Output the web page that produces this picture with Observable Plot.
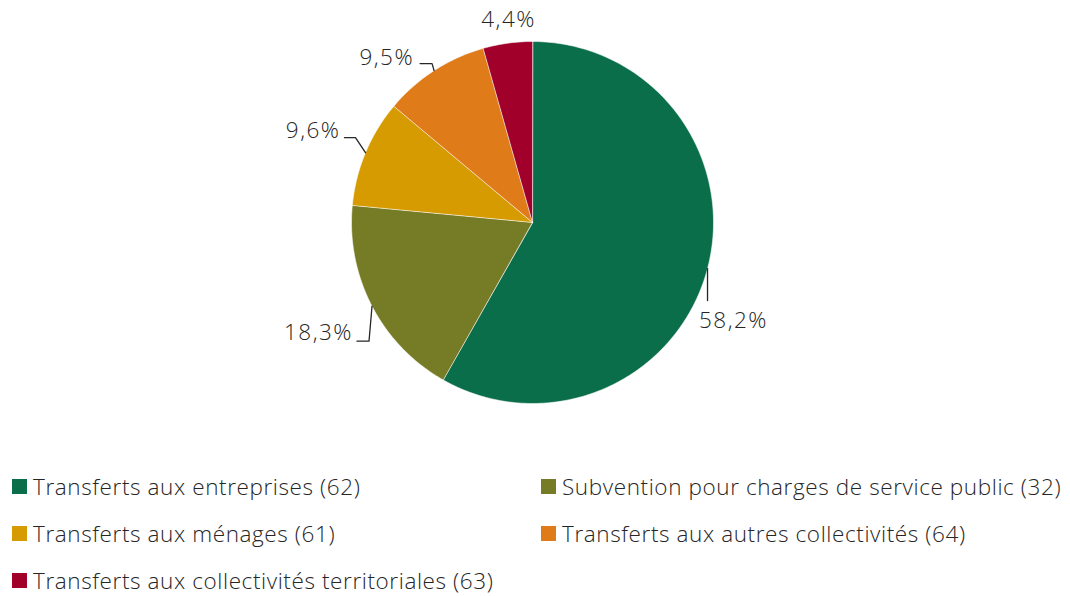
<!DOCTYPE html>
<html><head><meta charset="utf-8">
<script src="https://cdn.jsdelivr.net/npm/d3@7"></script>
<script src="https://cdn.jsdelivr.net/npm/@observablehq/plot@0.6"></script>
<style>
body{margin:0;background:#fff;font-family:"Open Sans",sans-serif;font-weight:300;color:#262626}
#legend{display:grid;grid-template-columns:529px 1fr;padding:33px 0 0 12px;}
.item{height:47px;display:flex;align-items:center;font-size:22.5px;letter-spacing:0.6px;white-space:nowrap}
.sw{width:15px;height:15px;margin-right:6px;flex:none}
#chart svg text{letter-spacing:1.5px}
</style></head><body><div id="chart"></div><div id="legend"></div>
<script>
// ---- data ----
const categories = [
  "Transferts aux entreprises (62)",
  "Subvention pour charges de service public (32)",
  "Transferts aux ménages (61)",
  "Transferts aux autres collectivités (64)",
  "Transferts aux collectivités territoriales (63)"
];
const shares = [58.2, 18.3, 9.6, 9.5, 4.4];
const labels = ["58,2%", "18,3%", "9,6%", "9,5%", "4,4%"];
const colors = ["#0b6e4a", "#767b26", "#d69b00", "#e07b1a", "#a0002a"];

// ---- label layout (pixel offsets from slice edge midpoint) ----
const leaderOffsets = [
  [[0,0],[0,32]],
  [[0,0],[-3,35],[-15,35]],
  [[0,0],[-10,-15],[-21,-15]],
  [[0,0],[-2,-7],[-14,-7]],
  []
];
const textOffsets = [[26,52,"middle"],[-19,27,"end"],[-25,-22,"end"],[-20,-13,"end"],[1,-23,"middle"]];

// ---- geometry ----
const W = 1070, H = 430, cx = 532, cy = 222, R = 181;
const total = d3.sum(shares);
const wedges = [], leaders = [], texts = [];
let cum = 0;
categories.forEach((cat, i) => {
  const a0 = cum / total * 2 * Math.PI;
  cum += shares[i];
  const a1 = cum / total * 2 * Math.PI;
  wedges.push({cat, x: 0, y: 0});
  const n = Math.max(2, Math.ceil((a1 - a0) / (Math.PI / 180)));
  for (let k = 0; k <= n; k++) {
    const a = a0 + (a1 - a0) * k / n;
    wedges.push({cat, x: Math.sin(a), y: Math.cos(a)});
  }
  const am = (a0 + a1) / 2;
  const ex = Math.sin(am), ey = Math.cos(am);
  leaderOffsets[i].forEach(([dx, dy]) => leaders.push({cat, x: ex + dx / R, y: ey - dy / R}));
  const [tx, ty, anchor] = textOffsets[i];
  texts.push({label: labels[i], x: ex + tx / R, y: ey - ty / R, anchor});
});

const plot = Plot.plot({
  width: W, height: H,
  margin: 0,
  style: {fontFamily: '"Open Sans", sans-serif', fontWeight: 300, color: "#262626", background: "#fff"},
  x: {domain: [-cx / R, (W - cx) / R], range: [0, W], axis: null},
  y: {domain: [(cy - H) / R, cy / R], range: [H, 0], axis: null},
  color: {domain: categories, range: colors},
  marks: [
    Plot.line(wedges, {x: "x", y: "y", z: "cat", fill: "cat", stroke: "white", strokeWidth: 0.8, strokeOpacity: 0.7, curve: "linear-closed"}),
    Plot.line(leaders, {x: "x", y: "y", z: "cat", stroke: "#262626", strokeWidth: 1.3}),
    Plot.text(texts.filter(d => d.anchor === "middle"), {x: "x", y: "y", text: "label", textAnchor: "middle", fontSize: 22.5, fill: "#262626"}),
    Plot.text(texts.filter(d => d.anchor === "end"), {x: "x", y: "y", text: "label", textAnchor: "end", fontSize: 22.5, fill: "#262626"})
  ]
});
document.getElementById("chart").appendChild(plot);

const legend = document.getElementById("legend");
categories.forEach((cat, i) => {
  const it = document.createElement("div");
  it.className = "item";
  const sw = document.createElement("span");
  sw.className = "sw";
  sw.style.background = colors[i];
  it.appendChild(sw);
  it.appendChild(document.createTextNode(cat));
  legend.appendChild(it);
});
</script></body></html>
